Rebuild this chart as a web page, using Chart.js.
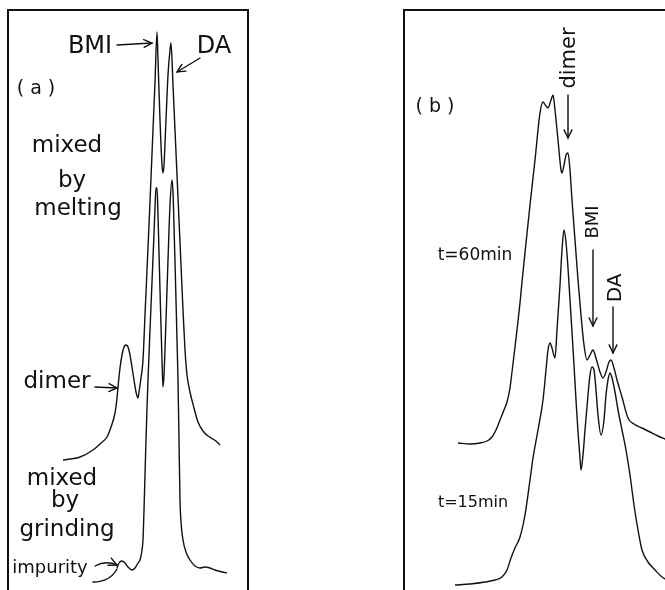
<!DOCTYPE html>
<html lang="en">
<head>
  <meta charset="UTF-8" />
  <title>GPC traces (a) mixing method, (b) reaction time</title>
  <script src="https://cdn.jsdelivr.net/npm/chart.js"></script>
  <style>
    html, body { margin: 0; padding: 0; background: #fff; width: 665px; height: 590px; overflow: hidden; }
    .panel { position: absolute; top: 6px; height: 600px; }
  </style>
</head>
<body>
<div class="panel" style="left:4px;width:248px"><canvas id="chartA"></canvas></div>
<div class="panel" style="left:400px;width:290px"><canvas id="chartB"></canvas></div>

<script>
// elution position (x) and detector signal (y)

// (a) mixed by melting
const meltX = [63,80,93,100,107,111,115,117,118,120,122,124,126,128,130,132,134,136,138,139,
  141,143,145,147,149,151,153,155,157,158,160,162,163,164,166,168,170,171,173,175,
  177,179,181,183,185,187,190,194,198,203,208,213,217,220];
const meltY = [130,133,140,146,153,163,177,192,203,222,235,243,245,243,235,223,210,198,192,198,
  212,230,275,320,365,412,460,508,558,530,470,425,417,425,470,515,540,547,505,460,
  415,370,325,280,240,215,198,182,168,159,154,151,148,145];

// (a) mixed by grinding
const grindX = [117,119,122,125,128,132,135,138,140,141,142,143,144,145,146,147,148,150,152,154,
  155,156,157,158,160,162,163,164,166,168,170,172,173,174,175,176,177,178,179,180,
  181,183,186,190,195,200,205,210,215,222,227];
const grindY = [22,27,29,27,23,20,22,27,30,34,40,50,80,115,150,182,210,260,308,356,
  382,402,402,375,300,230,203,215,270,330,385,410,398,365,328,290,250,210,150,90,
  68,50,38,30,24,22,23,22,20,18,17];

// (b) t = 60 min
const t60X = [458,470,480,487,492,496,500,504,507,510,512,515,517,520,522,526,530,535,540,543,
  546,548,551,553,555,558,561,562,564,566,568,570,572,575,578,581,584,587,590,593,
  596,600,603,606,609,611,614,617,622,628,634,642,650,658,665,675];
const t60Y = [147,146,147,149,153,160,170,180,188,202,218,243,260,287,308,347,385,430,477,488,
  484,482,490,495,480,450,420,417,425,435,437,420,390,350,310,275,245,230,235,240,
  232,218,212,218,228,230,222,210,193,172,166,162,158,154,151,147];

// (b) t = 15 min
const t15X = [455,470,485,495,502,507,511,515,520,525,530,533,538,543,546,548,550,552,555,557,
  560,562,564,566,568,570,572,574,576,578,580,581,583,585,588,590,592,594,596,598,
  601,604,606,608,610,612,615,618,622,626,630,634,638,642,648,655,662,675];
const t15Y = [5,6,8,10,13,20,32,42,53,75,110,132,160,190,220,240,247,242,232,260,
  305,340,360,348,322,290,258,225,190,158,132,120,135,160,195,215,223,220,200,175,
  155,170,195,210,217,212,198,180,160,140,115,85,60,40,28,20,13,6];

// annotations (same units as the data)
const textsA = [
  { t: 'BMI', x: 90, y: 537, size: 24 },
  { t: 'DA', x: 214, y: 537, size: 24 },
  { t: '( a )', x: 36, y: 496, size: 19 },
  { t: 'mixed', x: 67, y: 438, size: 23 },
  { t: 'by', x: 72, y: 403, size: 23 },
  { t: 'melting', x: 78, y: 375, size: 23 },
  { t: 'dimer', x: 57, y: 202, size: 23 },
  { t: 'mixed', x: 62, y: 105, size: 23 },
  { t: 'by', x: 65, y: 83, size: 23 },
  { t: 'grinding', x: 67, y: 54, size: 23 },
  { t: 'impurity', x: 50, y: 17, size: 18 },
];
const arrowsA = [
  { from: [117, 545], to: [152, 547] },
  { from: [200, 532], to: [177, 518] },
  { from: [95, 203], to: [117, 202] },
  { from: [95, 24], to: [117, 25], via: [106, 30] },
  { from: [93, 8], to: [117, 21], via: [110, 8], head: false },
];
const textsB = [
  { t: '( b )', x: 435, y: 478, size: 19 },
  { t: 't=60min', x: 475, y: 330, size: 17 },
  { t: 't=15min', x: 473, y: 83, size: 16 },
  { t: 'dimer', x: 570, y: 532, size: 21, rot: true },
  { t: 'BMI', x: 593, y: 368, size: 18, rot: true },
  { t: 'DA', x: 616, y: 302, size: 20, rot: true },
];
const arrowsB = [
  { from: [568, 495], to: [568, 452] },
  { from: [593, 340], to: [593, 264] },
  { from: [613, 283], to: [613, 237] },
];

const ink = '#111';
const fontFamily = '"DejaVu Sans", sans-serif';

function zip(xs, ys) {
  return xs.map((x, i) => ({ x, y: ys[i] }));
}

const drawExtras = {
  id: 'drawExtras',
  afterDraw(chart, args, opts) {
    const { ctx, chartArea: a, scales } = chart;
    const px = v => scales.x.getPixelForValue(v);
    const py = v => scales.y.getPixelForValue(v);
    ctx.save();
    ctx.strokeStyle = ink;
    ctx.fillStyle = ink;
    ctx.lineCap = 'round';

    // frame (bottom runs off the page)
    ctx.lineWidth = 2;
    ctx.beginPath();
    ctx.moveTo(a.left, a.bottom);
    ctx.lineTo(a.left, a.top);
    ctx.lineTo(a.right, a.top);
    ctx.lineTo(a.right, a.bottom);
    ctx.stroke();

    for (const lb of opts.texts) {
      ctx.font = `${lb.size}px ${fontFamily}`;
      ctx.textAlign = 'center';
      ctx.save();
      ctx.translate(px(lb.x), py(lb.y));
      if (lb.rot) {
        ctx.rotate(-Math.PI / 2);
        ctx.textBaseline = 'middle';
      } else {
        ctx.textBaseline = 'alphabetic';
      }
      ctx.fillText(lb.t, 0, 0);
      ctx.restore();
    }

    ctx.lineWidth = 1.4;
    for (const ar of opts.arrows) {
      const x0 = px(ar.from[0]), y0 = py(ar.from[1]);
      const x1 = px(ar.to[0]), y1 = py(ar.to[1]);
      ctx.beginPath();
      ctx.moveTo(x0, y0);
      let ang;
      if (ar.via) {
        const cx = px(ar.via[0]), cy = py(ar.via[1]);
        ctx.quadraticCurveTo(cx, cy, x1, y1);
        ang = Math.atan2(y1 - cy, x1 - cx);
      } else {
        ctx.lineTo(x1, y1);
        ang = Math.atan2(y1 - y0, x1 - x0);
      }
      ctx.stroke();
      if (ar.head !== false) {
        const L = 9, s = 0.45;
        ctx.beginPath();
        ctx.moveTo(x1 - L * Math.cos(ang - s), y1 - L * Math.sin(ang - s));
        ctx.lineTo(x1, y1);
        ctx.lineTo(x1 - L * Math.cos(ang + s), y1 - L * Math.sin(ang + s));
        ctx.stroke();
      }
    }
    ctx.restore();
  }
};

function trace(points) {
  return {
    data: points,
    borderColor: ink,
    borderWidth: 1.4,
    pointRadius: 0,
    fill: false,
    showLine: true,
    cubicInterpolationMode: 'monotone',
    clip: false
  };
}

function makeChart(id, datasets, xMin, xMax, texts, arrows) {
  return new Chart(document.getElementById(id), {
    type: 'scatter',
    data: { datasets },
    options: {
      responsive: true,
      maintainAspectRatio: false,
      animation: false,
      layout: { padding: { left: 4, top: 4, right: 4, bottom: 0 } },
      scales: {
        x: { type: 'linear', min: xMin, max: xMax, display: false },
        y: { type: 'linear', min: -16, max: 580, display: false }
      },
      plugins: {
        legend: { display: false },
        tooltip: { enabled: false },
        drawExtras: { texts, arrows }
      }
    },
    plugins: [drawExtras]
  });
}

makeChart('chartA', [trace(zip(meltX, meltY)), trace(zip(grindX, grindY))], 8, 248, textsA, arrowsA);
makeChart('chartB', [trace(zip(t60X, t60Y)), trace(zip(t15X, t15Y))], 404, 686, textsB, arrowsB);
</script>
</body>
</html>
